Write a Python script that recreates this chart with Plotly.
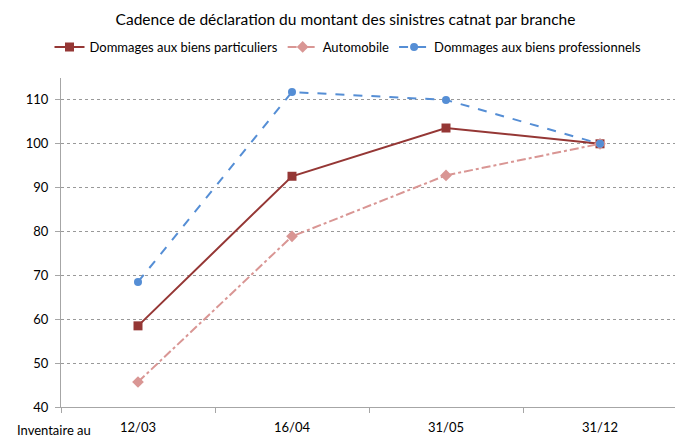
import plotly.graph_objects as go

categories = ["12/03", "16/04", "31/05", "31/12"]
particuliers = [58.5, 92.6, 103.6, 100.0]
automobile = [45.7, 78.9, 92.8, 100.0]
professionnels = [68.5, 111.8, 110.0, 100.0]
y_ticks = [40, 50, 60, 70, 80, 90, 100, 110]

FONT = "Lato"
# page has an 8px body margin: figure is drawn at (8, 8)
W, H = 675, 429
OFF = 8

fig = go.Figure()
fig.add_trace(go.Scatter(
    x=categories, y=particuliers, name="Dommages aux biens particuliers",
    mode="lines+markers",
    line=dict(color="#953735", width=2),
    marker=dict(symbol="square", size=9, color="#953735"),
))
fig.add_trace(go.Scatter(
    x=categories, y=automobile, name="Automobile",
    mode="lines+markers",
    line=dict(color="#D99694", width=2, dash="dashdot"),
    marker=dict(symbol="diamond", size=9, color="#D99694"),
))
fig.add_trace(go.Scatter(
    x=categories, y=professionnels, name="Dommages aux biens professionnels",
    mode="lines+markers",
    line=dict(color="#558ED5", width=2, dash="dash"),
    marker=dict(symbol="circle", size=8, color="#558ED5"),
))

fig.update_layout(
    width=W, height=H,
    margin=dict(l=61 - OFF, r=W - (677 - OFF), t=78 - OFF, b=H - (407 - OFF),
                autoexpand=False),
    paper_bgcolor="white", plot_bgcolor="white",
    font=dict(family=FONT, size=13, color="#000000"),
    title=dict(text="Cadence de déclaration du montant des sinistres catnat par branche",
               x=0.5, xanchor="center", y=1 - (20 - OFF) / H, yanchor="middle",
               yref="container",
               font=dict(family=FONT, size=15.5, color="#000000")),
    legend=dict(orientation="h", x=(348 - OFF) / W, xref="container", xanchor="center",
                y=1 - (47 - OFF) / H, yref="container", yanchor="middle",
                font=dict(family=FONT, size=13),
                itemwidth=30, tracegroupgap=0, traceorder="normal"),
    showlegend=True,
)
fig.update_xaxes(
    type="category", range=[-0.5, 3.5], automargin=False,
    showline=True, linecolor="#A6A6A6", linewidth=1,
    showgrid=False, ticks="outside", tickson="boundaries",
    ticklen=5, tickcolor="#A6A6A6", ticklabelstandoff=8,
    tickfont=dict(family=FONT, size=13),
)
fig.update_yaxes(
    range=[40, 115], tickvals=y_ticks, automargin=False,
    showline=True, linecolor="#A6A6A6", linewidth=1,
    showgrid=True, gridcolor="#999999", griddash="dot", gridwidth=1,
    ticks="outside", ticklen=5, tickcolor="#A6A6A6", ticklabelstandoff=4,
    tickfont=dict(family=FONT, size=13), zeroline=False,
)
fig.add_annotation(
    text="Inventaire au", xref="paper", yref="paper",
    x=(93 - 61) / 616, y=0, xanchor="right", yanchor="middle", yshift=-23,
    showarrow=False, font=dict(family=FONT, size=13),
)
fig.write_html("out.html")
